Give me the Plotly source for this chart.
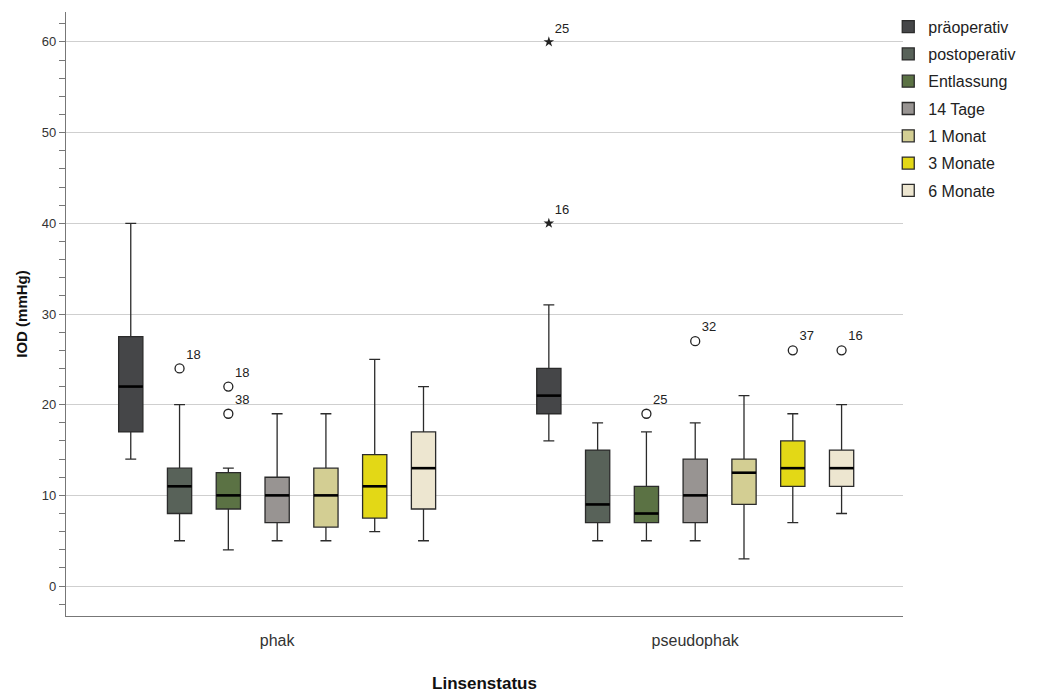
import plotly.graph_objects as go

# ---- data ----
groups = ["phak", "pseudophak"]
series = ["präoperativ", "postoperativ", "Entlassung", "14 Tage", "1 Monat", "3 Monate", "6 Monate"]
colors = ["#454648", "#586259", "#5b7244", "#989492", "#d3ce93", "#e3d816", "#ede6d0"]

# per series: [phak, pseudophak]
lower = [[14, 16], [5, 5], [4, 5], [5, 5], [5, 3], [6, 7], [5, 8]]
q1 = [[17, 19], [8, 7], [8.5, 7], [7, 7], [6.5, 9], [7.5, 11], [8.5, 11]]
median = [[22, 21], [11, 9], [10, 8], [10, 10], [10, 12.5], [11, 13], [13, 13]]
q3 = [[27.5, 24], [13, 15], [12.5, 11], [12, 14], [13, 14], [14.5, 16], [17, 15]]
upper = [[40, 31], [20, 18], [13, 17], [19, 18], [19, 21], [25, 19], [22, 20]]

# outliers: (group index, series index, value, case label, extreme?)
outlier_group = [0, 0, 0, 1, 1, 1, 1, 1, 1]
outlier_series = [1, 2, 2, 0, 0, 2, 3, 5, 6]
outlier_value = [24, 22, 19, 60, 40, 19, 27, 26, 26]
outlier_label = ["18", "18", "38", "25", "16", "25", "32", "37", "16"]
outlier_extreme = [False, False, False, True, True, False, False, False, False]

y_ticks = [0, 10, 20, 30, 40, 50, 60]

# ---- layout helpers ----
slot = 0.1167
box_w = 0.058
font_family = "Liberation Sans, Arial, sans-serif"


def xpos(g, s):
    return g + (s - 3) * slot


fig = go.Figure()

for s, name in enumerate(series):
    xs = [xpos(g, s) for g in range(len(groups))]
    fig.add_trace(go.Box(
        name=name,
        legendgroup=name,
        x=xs,
        q1=q1[s], median=median[s], q3=q3[s],
        lowerfence=lower[s], upperfence=upper[s],
        fillcolor=colors[s],
        line=dict(color="#2b2b2b", width=1.3),
        width=box_w,
        whiskerwidth=0.45,
        boxpoints=False,
        hoverinfo="skip",
        showlegend=True,
    ))

# thicker median lines
for s in range(len(series)):
    mx, my = [], []
    for g in range(len(groups)):
        c = xpos(g, s)
        mx += [c - box_w / 2, c + box_w / 2, None]
        my += [median[s][g], median[s][g], None]
    fig.add_trace(go.Scatter(x=mx, y=my, mode="lines",
                             line=dict(color="black", width=2.6),
                             showlegend=False, hoverinfo="skip"))

# outliers
for ext in (False, True):
    ox, oy, ot = [], [], []
    for g, s, v, lab, e in zip(outlier_group, outlier_series, outlier_value, outlier_label, outlier_extreme):
        if e == ext:
            ox.append(xpos(g, s))
            oy.append(v)
            ot.append(lab)
    fig.add_trace(go.Scatter(
        x=ox, y=oy, text=ot, mode="markers+text",
        textposition="top right",
        textfont=dict(family=font_family, size=13, color="#222"),
        marker=dict(symbol="star" if ext else "circle-open",
                    size=8 if ext else 9,
                    color="#222",
                    line=dict(width=1.3 if not ext else 0, color="#222")),
        showlegend=False, hoverinfo="skip"))

fig.update_layout(
    width=1045, height=693,
    margin=dict(l=66, r=142, t=12, b=77, autoexpand=False),
    paper_bgcolor="white", plot_bgcolor="white",
    font=dict(family=font_family, color="#222"),
    showlegend=True,
    legend=dict(xref="container", yref="container", x=0.85, y=0.986,
                xanchor="left", yanchor="top",
                font=dict(size=16, color="#222"), itemwidth=30,
                tracegroupgap=3.5, bgcolor="rgba(0,0,0,0)"),
)

fig.update_xaxes(
    range=[-0.505, 1.497],
    tickvals=list(range(len(groups))), ticktext=groups,
    showgrid=False, zeroline=False,
    showline=True, linecolor="#777", linewidth=1.2,
    ticks="", tickfont=dict(size=16, color="#333"),
    ticklabelstandoff=10,
    title=dict(text="<b>Linsenstatus</b>", font=dict(size=17, color="#111"), standoff=30),
)

fig.update_yaxes(
    range=[-3.3, 63.3],
    tickvals=y_ticks,
    showgrid=True, gridcolor="#cfcfcf", gridwidth=1.2,
    zeroline=False,
    showline=True, linecolor="#777", linewidth=1.2,
    ticks="outside", ticklen=6, tickcolor="#777",
    tickfont=dict(size=13, color="#333"),
    minor=dict(dtick=2, tick0=0, ticks="outside", ticklen=6, tickcolor="#777", showgrid=False),
    title=dict(text="<b>IOD (mmHg)</b>", font=dict(size=15, color="#111"), standoff=10),
)

fig.write_html("out.html")
